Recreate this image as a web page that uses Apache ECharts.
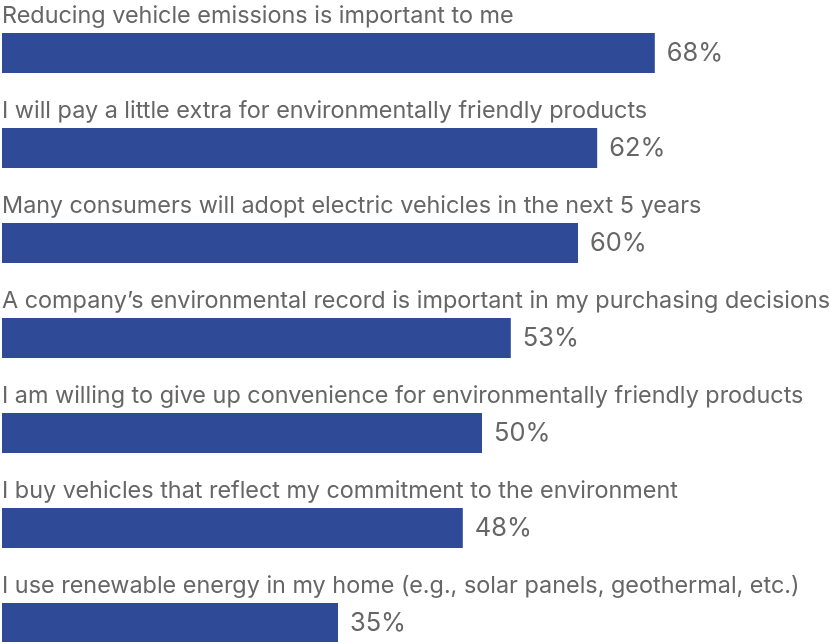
<!DOCTYPE html>
<html>
<head>
<meta charset="utf-8">
<script src="https://cdn.jsdelivr.net/npm/echarts@6/dist/echarts.min.js"></script>
<style>
  html, body { margin: 0; padding: 0; background: #ffffff; }
  #chart { width: 830px; height: 642px; }
</style>
</head>
<body>
<div id="chart"></div>
<script>
// Survey statements, top to bottom
const statements = [
  'Reducing vehicle emissions is important to me',
  'I will pay a little extra for environmentally friendly products',
  'Many consumers will adopt electric vehicles in the next 5 years',
  'A company\u2019s environmental record is important in my purchasing decisions',
  'I am willing to give up convenience for environmentally friendly products',
  'I buy vehicles that reflect my commitment to the environment',
  'I use renewable energy in my home (e.g., solar panels, geothermal, etc.)'
];
// Share of respondents who agree (%)
const agreePct = [68, 62, 60, 53, 50, 48, 35];

const chart = echarts.init(document.getElementById('chart'), null, { renderer: 'canvas' });

const textColor = '#666666';
const barColor = '#2F4A97';
const fontFamily = 'Inter, "Liberation Sans", Arial, sans-serif';

chart.setOption({
  animation: false,
  // plot spans the full width; 9.6 px per percentage point
  grid: { left: 2, right: 0, top: 53, bottom: 19, containLabel: false },
  xAxis: {
    type: 'value', min: 0, max: 86.25,
    show: false
  },
  yAxis: {
    type: 'category',
    data: statements,
    inverse: true,
    boundaryGap: false,
    show: false
  },
  series: [
    {
      // bars with percentage labels
      type: 'bar',
      data: agreePct,
      barWidth: 40,
      itemStyle: { color: barColor },
      label: {
        show: true,
        position: 'right',
        distance: 12,
        formatter: p => p.value + '%',
        color: textColor,
        fontSize: 25.4,
        fontFamily: fontFamily
      },
      z: 2
    },
    {
      // transparent twin bars that carry the statement text above each bar
      type: 'bar',
      data: agreePct,
      barWidth: 40,
      barGap: '-100%',
      itemStyle: { color: 'rgba(0,0,0,0)' },
      silent: true,
      label: {
        show: true,
        position: [0, -6],
        verticalAlign: 'bottom',
        align: 'left',
        formatter: p => statements[p.dataIndex],
        color: textColor,
        fontSize: 23.4,
        fontFamily: fontFamily
      },
      z: 3
    }
  ]
});
</script>
</body>
</html>
